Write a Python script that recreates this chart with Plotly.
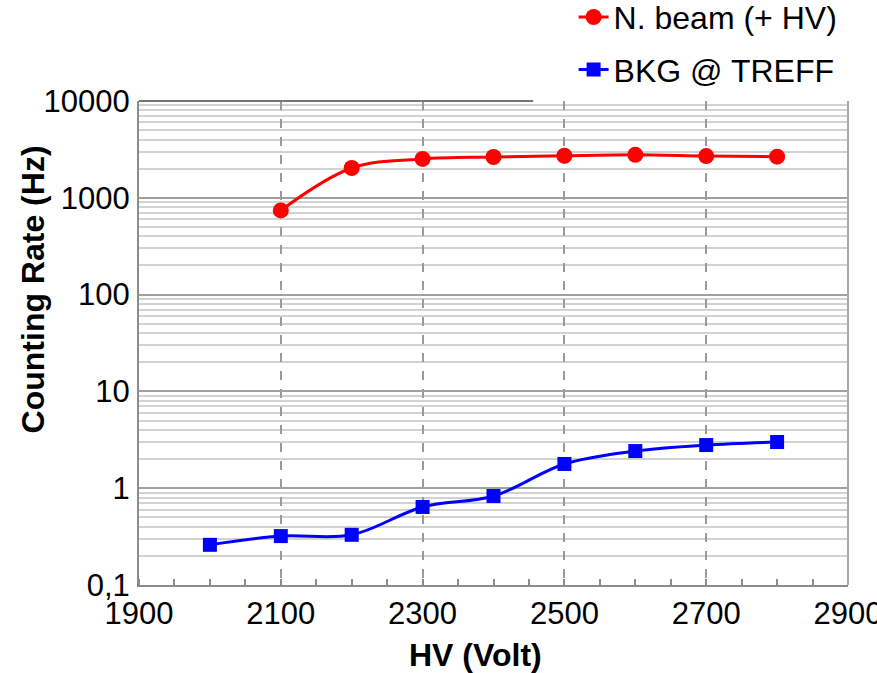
import plotly.graph_objects as go

hv_beam = [2100, 2200, 2300, 2400, 2500, 2600, 2700, 2800]
rate_beam = [740, 2030, 2520, 2640, 2720, 2780, 2700, 2660]

hv_bkg = [2000, 2100, 2200, 2300, 2400, 2500, 2600, 2700, 2800]
rate_bkg = [0.26, 0.32, 0.33, 0.64, 0.83, 1.78, 2.42, 2.79, 3.0]

y_tickvals = [0.1, 1, 10, 100, 1000, 10000]
y_ticktext = ["0,1", "1", "10", "100", "1000", "10000"]
x_tickvals = [1900, 2100, 2300, 2500, 2700, 2900]

FONT = "Liberation Sans, Arial, sans-serif"

minor_vals = [m * 10 ** e for e in range(-1, 4) for m in range(2, 10)]

fig = go.Figure()
fig.add_trace(go.Scatter(
    x=hv_beam, y=rate_beam, name="N. beam (+ HV)", mode="lines+markers",
    line=dict(color="#ff0000", width=3, shape="spline", smoothing=1),
    marker=dict(symbol="circle", size=16, color="#ff0000"),
    legendgroup="a",
))
fig.add_trace(go.Scatter(
    x=hv_bkg, y=rate_bkg, name="BKG @ TREFF", mode="lines+markers",
    line=dict(color="#0000ff", width=3, shape="spline", smoothing=1),
    marker=dict(symbol="square", size=14, color="#0000ff"),
    legendgroup="b",
))

fig.update_layout(
    width=877, height=673,
    margin=dict(l=139, r=29, t=101, b=88, autoexpand=False),
    paper_bgcolor="white", plot_bgcolor="white",
    font=dict(family=FONT, color="black", size=31),
    showlegend=True,
    legend=dict(x=0.613, y=1.23, xanchor="left", yanchor="top",
                font=dict(size=32, family=FONT), bgcolor="rgba(0,0,0,0)",
                tracegroupgap=8),
    xaxis=dict(
        range=[1900, 2900], tickmode="array", tickvals=x_tickvals,
        tickfont=dict(size=31), ticks="", showgrid=True,
        gridcolor="#9a9a9a", griddash="dash", gridwidth=1.5,
        showline=True, linecolor="#8c8c8c", linewidth=2,
        zeroline=False, ticklabeloverflow="allow",
        minor=dict(dtick=50, tick0=1900, ticks="inside", ticklen=6,
                   tickcolor="#8c8c8c", tickwidth=1.5, showgrid=False),
    ),
    yaxis=dict(
        type="log", range=[-1, 4], tickmode="array", tickvals=y_tickvals,
        ticktext=y_ticktext, tickfont=dict(size=31), ticks="",
        showgrid=True, gridcolor="#a0a0a0", gridwidth=2,
        showline=True, linecolor="#8c8c8c", linewidth=2, zeroline=False,
        ticklabelstandoff=1,
        minor=dict(tickmode="array", tickvals=minor_vals, showgrid=True,
                   gridcolor="#d2d2d2", gridwidth=2, ticks=""),
    ),
    annotations=[
        dict(text="<b>Counting Rate (Hz)</b>", xref="paper", yref="paper",
             x=-0.15, y=0.61, xanchor="center", yanchor="middle",
             textangle=-90, showarrow=False, font=dict(size=32, family=FONT)),
        dict(text="<b>HV (Volt)</b>", xref="paper", yref="paper",
             x=0.475, y=-0.145, xanchor="center", yanchor="middle",
             showarrow=False, font=dict(size=32, family=FONT)),
    ],
    shapes=[
        dict(type="line", xref="paper", yref="paper", x0=1, x1=1, y0=0, y1=1,
             line=dict(color="#a8a8a8", width=2)),
        dict(type="line", xref="paper", yref="paper", x0=0, x1=0.556, y0=1, y1=1,
             line=dict(color="#777777", width=2)),
    ],
)

fig.write_html("out.html")
